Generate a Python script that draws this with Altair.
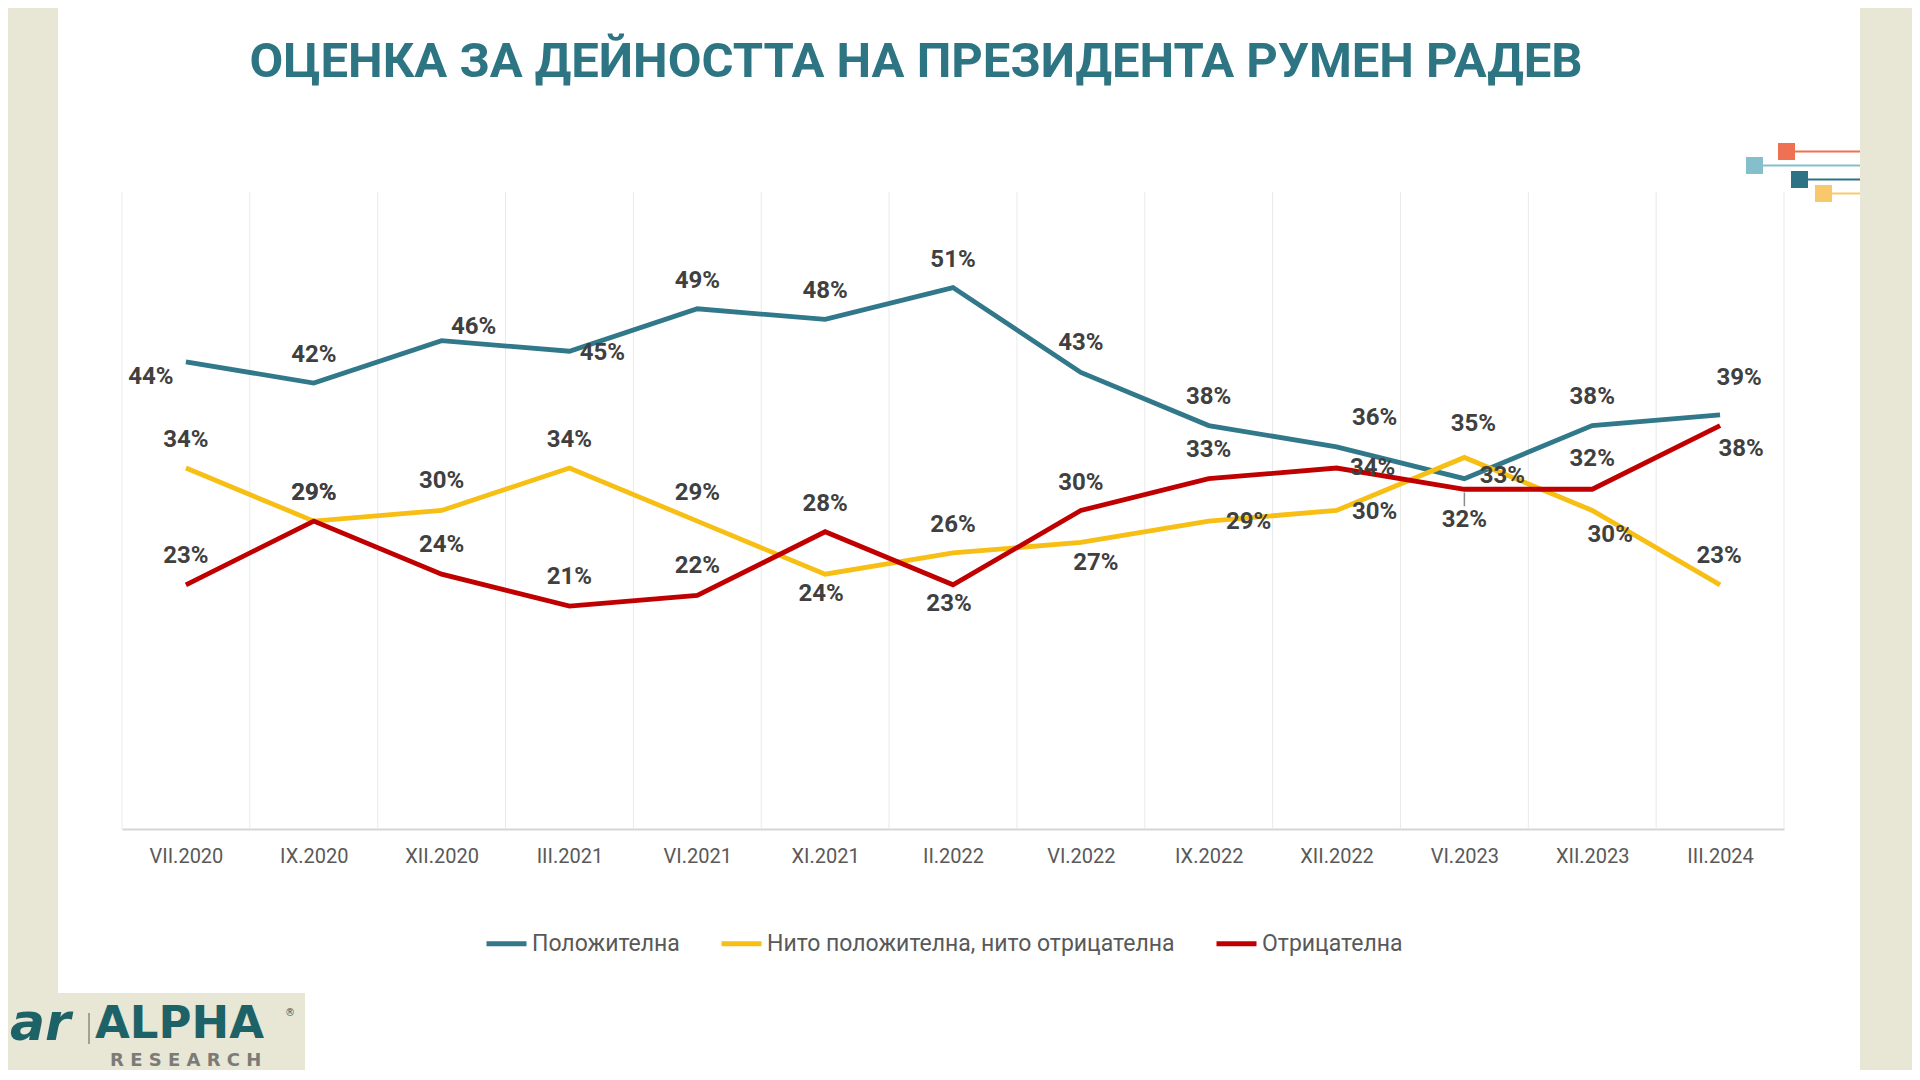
import json
import altair as alt
import pandas as pd

# ---------------- data ----------------
periods = ["VII.2020", "IX.2020", "XII.2020", "III.2021", "VI.2021", "XI.2021", "II.2022",
           "VI.2022", "IX.2022", "XII.2022", "VI.2023", "XII.2023", "III.2024"]
positive = [44, 42, 46, 45, 49, 48, 51, 43, 38, 36, 33, 38, 39]
neutral = [34, 29, 30, 34, 29, 24, 26, 27, 29, 30, 35, 30, 23]
negative = [23, 29, 24, 21, 22, 28, 23, 30, 33, 34, 32, 32, 38]

series_names = ["Положителна", "Нито положителна, нито отрицателна", "Отрицателна"]
series_colors = ["#31788a", "#f7be14", "#c00000"]
title_text = "ОЦЕНКА ЗА ДЕЙНОСТТА НА ПРЕЗИДЕНТА РУМЕН РАДЕВ"

# ---------------- label placement (style, pixel offsets from the point) ----------------
pos_dx = [-35, 0, 32, 33, 0, 0, 0, 0, 0, 38, 38, 0, 19]
pos_dy = [15, -28, -14, 2, -28, -28, -28, -29, -29, -29, -3, -29, -37]
neu_dx = [0, 0, 0, 0, 0, -4, 0, 15, 40, 38, 9, 18, -1]
neu_dy = [-28, -28, -30, -28, -28, 20, -28, 21, 1, 1, -33, 24, -29]
neg_dx = [0, 0, 0, 0, 0, 0, -4, 0, 0, 36, 0, 0, 21]
neg_dy = [-29, -28, -29, -29, -29, -28, 19, -28, -29, 0, 31, -30, 23]

FONT = "Roboto"
W, H = 1662, 637
PAD_L, PAD_T = 114, 184
Y_MAX = 60
STEP = W / len(periods)        # pixels per category
UNIT = H / Y_MAX               # pixels per percentage point

rows = []
for name, vals, dxs, dys in zip(series_names, [positive, neutral, negative],
                                [pos_dx, neu_dx, neg_dx], [pos_dy, neu_dy, neg_dy]):
    for i, (p, v, dx, dy) in enumerate(zip(periods, vals, dxs, dys)):
        rows.append({"idx": i, "period": p, "series": name, "value": v,
                     "label": f"{v}%", "lx": i + dx / STEP, "ly": v - dy / UNIT})
df = pd.DataFrame(rows)

bounds = pd.DataFrame({"b": [i - 0.5 for i in range(len(periods) + 1)]})

x_scale = alt.Scale(domain=[-0.5, len(periods) - 0.5], nice=False, zero=False)
y_scale = alt.Scale(domain=[0, Y_MAX], nice=False)

label_expr = json.dumps(periods, ensure_ascii=False) + "[datum.value]"

grid = alt.Chart(bounds).mark_rule(color="#e9e9e9", strokeWidth=1).encode(
    x=alt.X("b:Q", scale=x_scale),
    y=alt.value(0), y2=alt.value(H),
)

lines = alt.Chart(df).mark_line(strokeWidth=4.8).encode(
    x=alt.X("idx:Q", scale=x_scale,
            axis=alt.Axis(title=None, values=list(range(len(periods))), labelExpr=label_expr,
                          grid=False, ticks=False, tickSize=0, domainColor="#d6d6d6", domainWidth=2,
                          labelFont=FONT, labelFontSize=20, labelColor="#595959",
                          labelPadding=17, labelAngle=0, labelOverlap=False, labelFlush=False)),
    y=alt.Y("value:Q", scale=y_scale, axis=None),
    color=alt.Color("series:N", sort=series_names,
                    scale=alt.Scale(domain=series_names, range=series_colors),
                    legend=alt.Legend(title=None, orient="none", direction="horizontal",
                                      legendX=362, legendY=729, symbolType="stroke",
                                      symbolSize=1600, symbolStrokeWidth=4.8,
                                      labelFont=FONT, labelFontSize=23, labelColor="#595959",
                                      labelLimit=0, labelOffset=3, columnPadding=31, padding=0)),
    order=alt.Order("idx:Q"),
)

labels = alt.Chart(df).mark_text(font=FONT, fontSize=24, fontWeight="bold", color="#404040",
                                 align="center", baseline="middle").encode(
    x=alt.X("lx:Q", scale=x_scale),
    y=alt.Y("ly:Q", scale=y_scale),
    text="label:N",
)

one = pd.DataFrame({"a": [0]})

# page background: beige side strips and logo box
BEIGE = "#e8e6d5"
bg_left = alt.Chart(one).mark_rect(color=BEIGE).encode(
    x=alt.value(-PAD_L), x2=alt.value(58 - 122), y=alt.value(-PAD_T), y2=alt.value(1072 - 192))
bg_logo = alt.Chart(one).mark_rect(color=BEIGE).encode(
    x=alt.value(-PAD_L), x2=alt.value(305 - 122), y=alt.value(993 - 192), y2=alt.value(1072 - 192))
bg_right = alt.Chart(one).mark_rect(color=BEIGE).encode(
    x=alt.value(1860 - 122), x2=alt.value(1912 - 122), y=alt.value(-PAD_T), y2=alt.value(1072 - 192))

title = alt.Chart(one).mark_text(font=FONT, fontSize=49, fontWeight="bold", color="#2e7584",
                                 align="center", baseline="alphabetic").encode(
    x=alt.value(916 - 122), y=alt.value(77 - 192), text=alt.value(title_text))

# decorative squares and lines (top right)
deco_colors = ["#ef7153", "#86bfcc", "#2e7385", "#f9c86a"]
deco_x = [1778, 1746, 1791, 1815]
deco_y = [143, 157, 171, 185]
deco_layers = []
for c, dx0, dy0 in zip(deco_colors, deco_x, deco_y):
    deco_layers.append(alt.Chart(one).mark_rule(color=c, strokeWidth=2).encode(
        x=alt.value(dx0 + 17 - 122), x2=alt.value(1860 - 122), y=alt.value(dy0 + 8.5 - 192)))
    deco_layers.append(alt.Chart(one).mark_rect(color=c).encode(
        x=alt.value(dx0 - 122), x2=alt.value(dx0 + 17 - 122),
        y=alt.value(dy0 - 192), y2=alt.value(dy0 + 17 - 192)))

# leader line for the 32% label at VI.2023
leader = alt.Chart(one).mark_rule(color="#8c8c8c", strokeWidth=1.5).encode(
    x=alt.value((10 + 0.5) * STEP), y=alt.value(H - 31.7 * UNIT), y2=alt.value(H - 30.4 * UNIT))

# logo
TEAL_DARK = "#1d6266"
logo_ar = alt.Chart(one).mark_text(font="DejaVu Sans", fontSize=52, fontWeight="bold",
                                   fontStyle="italic", color=TEAL_DARK, align="left",
                                   baseline="alphabetic").encode(
    x=alt.value(10 - 122), y=alt.value(1040 - 192), text=alt.value("ar"))
logo_sep = alt.Chart(one).mark_rule(color="#8a8a80", strokeWidth=1.5).encode(
    x=alt.value(89 - 122), y=alt.value(1013 - 192), y2=alt.value(1044 - 192))
logo_alpha = alt.Chart(one).mark_text(font="DejaVu Sans", fontSize=45, fontWeight="bold",
                                      color=TEAL_DARK, align="left", baseline="alphabetic").encode(
    x=alt.value(95 - 122), y=alt.value(1038 - 192), text=alt.value("ALPHA"))
logo_reg = alt.Chart(one).mark_text(font="DejaVu Sans", fontSize=10, color=TEAL_DARK,
                                    align="left", baseline="alphabetic").encode(
    x=alt.value(285 - 122), y=alt.value(1016 - 192), text=alt.value("®"))
logo_research = alt.Chart(one).mark_text(font="DejaVu Sans", fontSize=18, fontWeight="bold",
                                         color="#7b7b78", align="left", baseline="alphabetic").encode(
    x=alt.value(110 - 122), y=alt.value(1066 - 192), text=alt.value("R E S E A R C H"))

chart = alt.layer(
    bg_left, bg_logo, bg_right, grid, lines, leader, labels, title, *deco_layers,
    logo_ar, logo_sep, logo_alpha, logo_reg, logo_research
).properties(
    width=W, height=H,
    autosize=alt.AutoSizeParams(type="none"),
    padding={"left": PAD_L, "top": PAD_T, "right": 1912 - 122 - W, "bottom": 1070 - 192 - H},
    background="white",
).configure_view(stroke=None)

chart.save("out.html", embed_options={"renderer": "svg", "actions": False})
